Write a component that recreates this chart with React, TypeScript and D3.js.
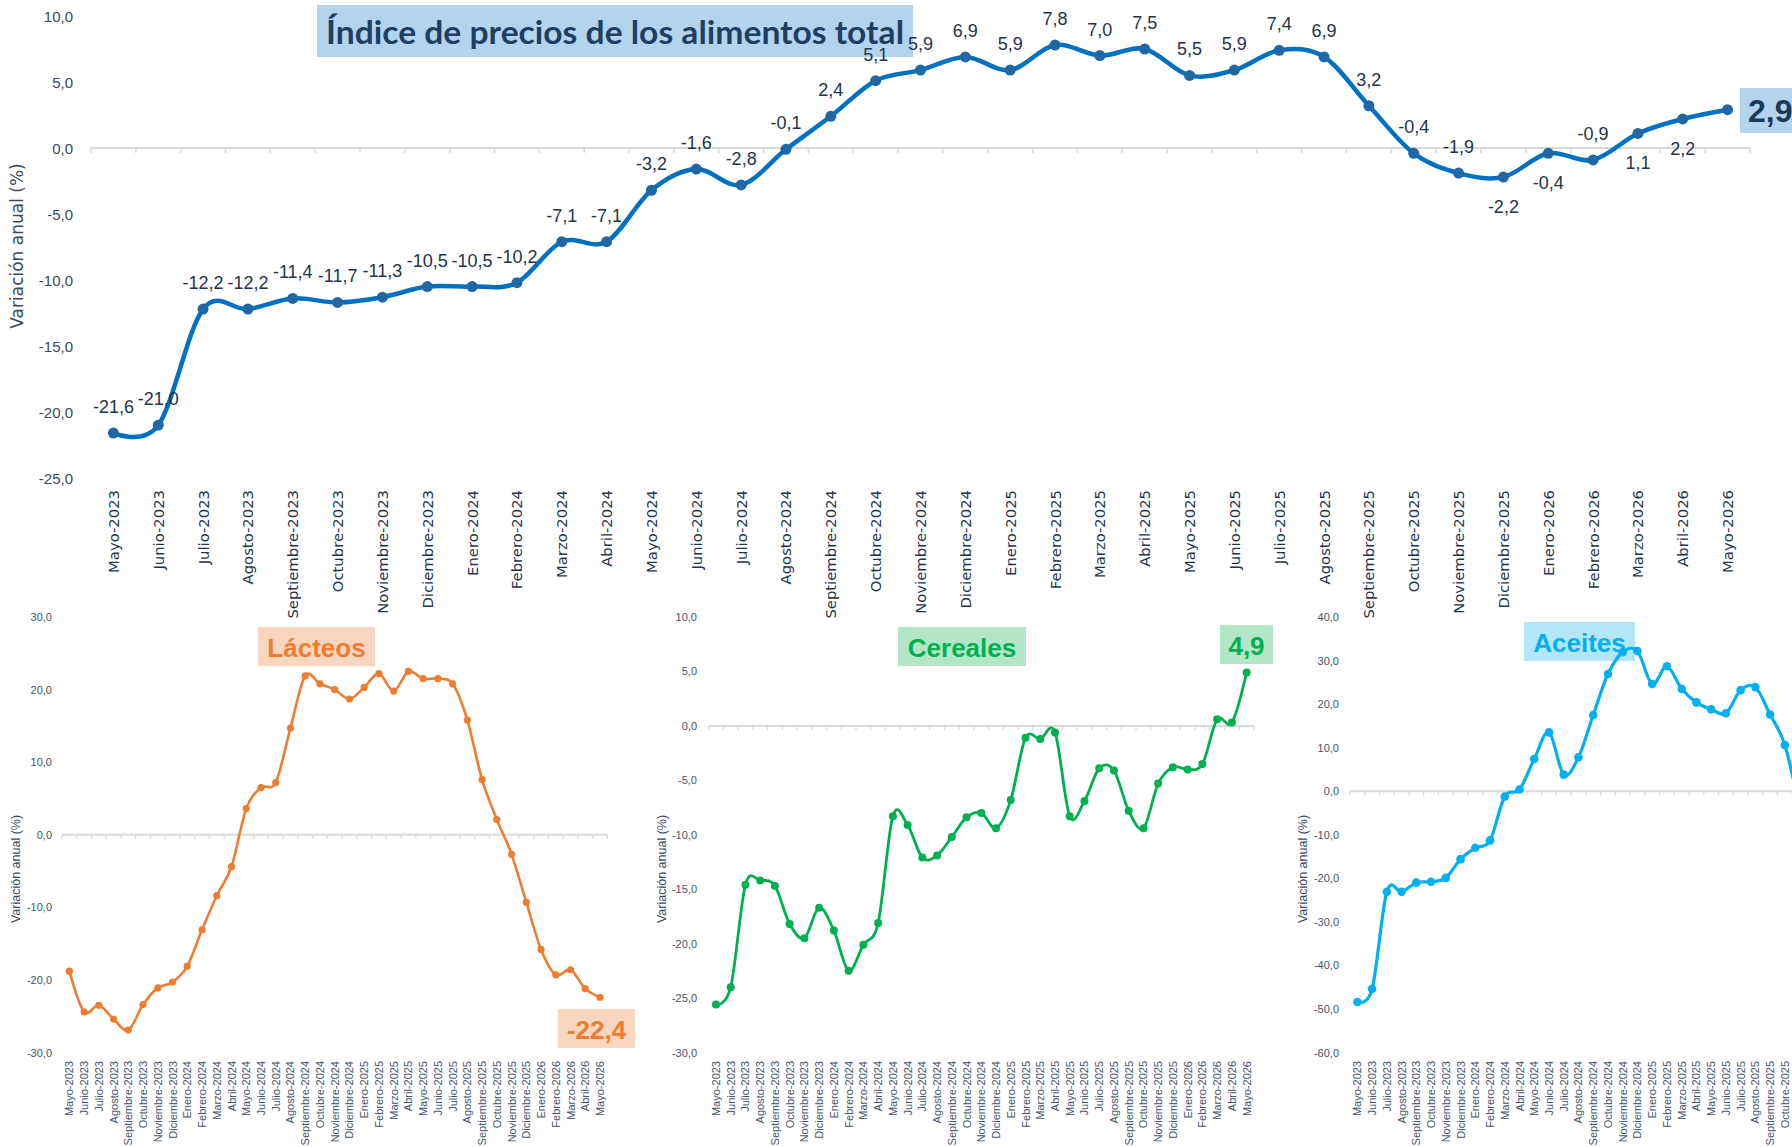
import React from "react";
import * as d3 from "d3";

const months = [
  "Mayo-2023", "Junio-2023", "Julio-2023", "Agosto-2023", "Septiembre-2023", "Octubre-2023",
  "Noviembre-2023", "Diciembre-2023", "Enero-2024", "Febrero-2024", "Marzo-2024", "Abril-2024",
  "Mayo-2024", "Junio-2024", "Julio-2024", "Agosto-2024", "Septiembre-2024", "Octubre-2024",
  "Noviembre-2024", "Diciembre-2024", "Enero-2025", "Febrero-2025", "Marzo-2025", "Abril-2025",
  "Mayo-2025", "Junio-2025", "Julio-2025", "Agosto-2025", "Septiembre-2025", "Octubre-2025",
  "Noviembre-2025", "Diciembre-2025", "Enero-2026", "Febrero-2026", "Marzo-2026", "Abril-2026",
  "Mayo-2026",
];

const totalValues = [
  -21.6, -21.0, -12.2, -12.2, -11.4, -11.7, -11.3, -10.5, -10.5, -10.2, -7.1, -7.1,
  -3.2, -1.6, -2.8, -0.1, 2.4, 5.1, 5.9, 6.9, 5.9, 7.8, 7.0, 7.5,
  5.5, 5.9, 7.4, 6.9, 3.2, -0.4, -1.9, -2.2, -0.4, -0.9, 1.1, 2.2, 2.9,
];
const totalLabelsBelow = ["Diciembre-2025", "Enero-2026", "Marzo-2026", "Abril-2026"];

const lacteosValues = [
  -18.8, -24.4, -23.5, -25.4, -26.9, -23.4, -21.1, -20.3, -18.1, -13.1, -8.4, -4.4,
  3.6, 6.5, 7.2, 14.7, 21.9, 20.8, 20.0, 18.7, 20.3, 22.2, 19.8, 22.5,
  21.5, 21.5, 20.8, 15.8, 7.6, 2.1, -2.7, -9.3, -15.8, -19.3, -18.6, -21.2, -22.4,
];
const cerealesValues = [
  -25.6, -24.0, -14.6, -14.2, -14.7, -18.2, -19.5, -16.7, -18.8, -22.5, -20.1, -18.1,
  -8.3, -9.1, -12.1, -11.9, -10.2, -8.4, -8.0, -9.4, -6.8, -1.1, -1.2, -0.6,
  -8.3, -6.9, -3.9, -4.1, -7.8, -9.4, -5.3, -3.8, -4.0, -3.5, 0.6, 0.3, 4.9,
];
const aceitesValues = [
  -48.4, -45.4, -23.1, -23.1, -21.0, -20.8, -19.9, -15.6, -13.0, -11.3, -1.2, 0.4,
  7.4, 13.5, 3.8, 7.8, 17.5, 26.9, 31.9, 32.2, 24.6, 28.7, 23.5, 20.4,
  18.8, 17.9, 23.2, 23.9, 17.6, 10.6, -4.0,
];

const topTicks = [10, 5, 0, -5, -10, -15, -20, -25];
const lacteosTicks = [30, 20, 10, 0, -10, -20, -30];
const cerealesTicks = [10, 5, 0, -5, -10, -15, -20, -25, -30];
const aceitesTicks = [40, 30, 20, 10, 0, -10, -20, -30, -40, -50, -60];

const mainTitle = "Índice de precios de los alimentos total";
const yTitle = "Variación anual (%)";

const fmt = (v: number) => v.toFixed(1).replace(".", ",");

const SANS = "'Liberation Sans', Arial, sans-serif";
const WIDE = "'DejaVu Sans', Verdana, sans-serif";

function TopChart() {
  const x = d3.scaleBand<string>().domain(months).range([91, 1750]);
  const y = d3.scaleLinear().domain([-25, 10]).range([478, 16]);
  const cx = (m: string) => (x(m) as number) + x.bandwidth() / 2;
  const pts: [number, number][] = totalValues.map((v, i) => [cx(months[i]), y(v)]);
  const line = d3.line().curve(d3.curveCatmullRom.alpha(0))(pts) as string;
  const y0 = y(0);
  const last = totalValues.length - 1;
  return (
    <g>
      <rect x={317} y={5} width={596} height={52} fill="#b4d4ee" />
      <text x={326} y={31} dominantBaseline="central" fontFamily="Lato, 'Open Sans', sans-serif" fontWeight={700}
        fontSize={33} fill="#1f3f62" textLength={578} lengthAdjust="spacingAndGlyphs">{mainTitle}</text>
      {topTicks.map((t) => (
        <text key={t} x={73} y={y(t)} textAnchor="end" dominantBaseline="central" fontFamily={SANS}
          fontSize={15} fill="#3b4a5c">{fmt(t)}</text>
      ))}
      <text transform={`translate(17,${246}) rotate(-90)`} textAnchor="middle" dominantBaseline="central"
        fontFamily={WIDE} fontSize={17} fill="#3b4a5c">{yTitle}</text>
      <line x1={91} x2={1750} y1={y0} y2={y0} stroke="#d9d9d9" strokeWidth={2} />
      {d3.range(months.length + 1).map((i) => {
        const xx = 91 + i * x.step();
        return <line key={i} x1={xx} x2={xx} y1={y0} y2={y0 + 5} stroke="#d9d9d9" strokeWidth={1.5} />;
      })}
      {months.map((m) => (
        <text key={m} transform={`translate(${cx(m)},${490}) rotate(-90)`} textAnchor="end" dominantBaseline="central"
          fontFamily={WIDE} fontSize={14.8} fill="#1f3449">{m}</text>
      ))}
      <path d={line} fill="none" stroke="#0070c0" strokeWidth={4.5} />
      {pts.map((p, i) => (
        <circle key={i} cx={p[0]} cy={p[1]} r={5.5} fill="#2167a3" />
      ))}
      {totalValues.map((v, i) => {
        if (i === last) return null;
        const below = totalLabelsBelow.includes(months[i]);
        return (
          <text key={i} x={pts[i][0]} y={pts[i][1] + (below ? 30 : -26)} textAnchor="middle" dominantBaseline="central"
            fontFamily={SANS} fontSize={18} fill="#243447">{fmt(v)}</text>
        );
      })}
      <rect x={1740} y={88} width={60} height={45} fill="#b4d4ee" />
      <text x={1748} y={111} dominantBaseline="central" fontFamily={SANS} fontWeight={700} fontSize={32}
        fill="#1c3a57">{fmt(totalValues[last])}</text>
    </g>
  );
}

type SmallProps = {
  x0: number;
  yDomain: [number, number];
  ticks: number[];
  values: number[];
  color: string;
  boxFill: string;
  title: string;
  titleBox: [number, number, number, number];
  lastBox?: [number, number, number, number];
  labelRight: number;
  titleX: number;
  markerR: number;
  lineW: number;
};

function SmallChart(p: SmallProps) {
  const step = 14.74;
  const x = d3.scaleBand<string>().domain(months).range([p.x0, p.x0 + step * months.length]);
  const y = d3.scaleLinear().domain(p.yDomain).range([1052.5, 617]);
  const cx = (m: string) => (x(m) as number) + x.bandwidth() / 2;
  const pts: [number, number][] = p.values.map((v, i) => [cx(months[i]), y(v)]);
  const line = d3.line().curve(d3.curveCatmullRom.alpha(0))(pts) as string;
  const y0 = y(0);
  const [bx, by, bw, bh] = p.titleBox;
  const lastV = p.values[p.values.length - 1];
  return (
    <g>
      {p.ticks.map((t) => (
        <text key={t} x={p.labelRight} y={y(t)} textAnchor="end" dominantBaseline="central" fontFamily={SANS}
          fontSize={11} fill="#44546a">{fmt(t)}</text>
      ))}
      <text transform={`translate(${p.titleX},${869}) rotate(-90)`} textAnchor="middle" dominantBaseline="central"
        fontFamily={SANS} fontSize={12.5} fill="#3b4a5c">{yTitle}</text>
      <line x1={p.x0} x2={p.x0 + step * months.length} y1={y0} y2={y0} stroke="#d9d9d9" strokeWidth={2} />
      {d3.range(months.length + 1).map((i) => {
        const xx = p.x0 + i * x.step();
        return <line key={i} x1={xx} x2={xx} y1={y0} y2={y0 + 4} stroke="#d9d9d9" strokeWidth={1.2} />;
      })}
      {months.map((m) => (
        <text key={m} transform={`translate(${cx(m)},${1061}) rotate(-90)`} textAnchor="end" dominantBaseline="central"
          fontFamily={SANS} fontSize={11} fill="#44546a">{m}</text>
      ))}
      <rect x={bx} y={by} width={bw} height={bh} fill={p.boxFill} />
      <text x={bx + bw / 2} y={by + bh / 2 + 1} textAnchor="middle" dominantBaseline="central" fontFamily={SANS}
        fontWeight={700} fontSize={26} fill={p.color}>{p.title}</text>
      <path d={line} fill="none" stroke={p.color} strokeWidth={p.lineW} />
      {pts.map((q, i) => (
        <circle key={i} cx={q[0]} cy={q[1]} r={p.markerR} fill={p.color} />
      ))}
      {p.lastBox && (
        <g>
          <rect x={p.lastBox[0]} y={p.lastBox[1]} width={p.lastBox[2]} height={p.lastBox[3]} fill={p.boxFill} />
          <text x={p.lastBox[0] + p.lastBox[2] / 2} y={p.lastBox[1] + p.lastBox[3] / 2 + 1} textAnchor="middle"
            dominantBaseline="central" fontFamily={SANS} fontWeight={700} fontSize={26} fill={p.color}>{fmt(lastV)}</text>
        </g>
      )}
    </g>
  );
}

export default function App() {
  return (
    <svg width={1792} height={1147} style={{ position: "absolute", left: 0, top: 0, background: "#fff" }}>
      <rect x={0} y={0} width={1792} height={1147} fill="#ffffff" />
      <TopChart />
      <SmallChart x0={62} yDomain={[-30, 30]} ticks={lacteosTicks} values={lacteosValues} color="#ed7d31"
        boxFill="#f8d5bf" title="Lácteos" titleBox={[258, 627, 117, 39]} lastBox={[558, 1009, 77, 39]}
        labelRight={52} titleX={16} markerR={3.6} lineW={2.6} />
      <SmallChart x0={708.6} yDomain={[-30, 10]} ticks={cerealesTicks} values={cerealesValues} color="#00b050"
        boxFill="#b3e6c6" title="Cereales" titleBox={[898, 627, 128, 39]} lastBox={[1220, 625, 53, 39]}
        labelRight={697} titleX={662} markerR={4} lineW={2.8} />
      <SmallChart x0={1350} yDomain={[-60, 40]} ticks={aceitesTicks} values={aceitesValues} color="#00b0f0"
        boxFill="#b3e6f9" title="Aceites" titleBox={[1524, 622, 111, 39]}
        labelRight={1339} titleX={1303} markerR={4.3} lineW={3.2} />
    </svg>
  );
}
